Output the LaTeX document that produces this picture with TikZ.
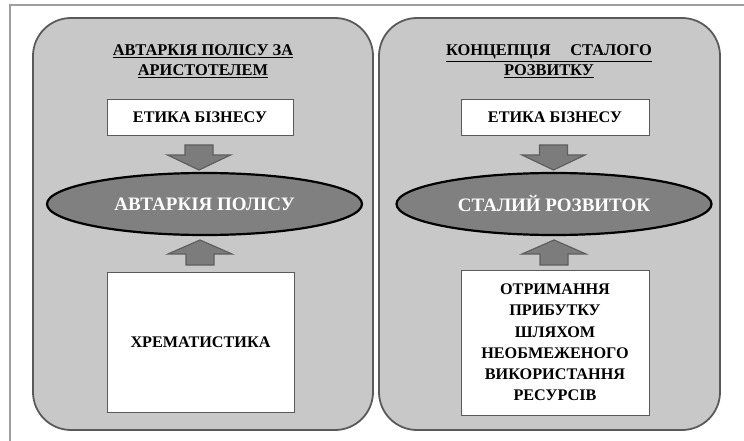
\documentclass[tikz,border=0pt]{standalone}
\usepackage{fontspec}
\setmainfont{Liberation Serif}
\usetikzlibrary{shapes.geometric}
\definecolor{panelfill}{HTML}{C8C8C8}
\definecolor{paneldraw}{HTML}{5A5A5A}
\definecolor{ellfill}{HTML}{808080}
\definecolor{arrfill}{HTML}{7C7C7C}
\definecolor{arrdraw}{HTML}{5E5E5E}
\definecolor{framecol}{HTML}{9E9E9E}
\tikzset{
  panel/.style={draw=paneldraw, line width=1.8pt, fill=panelfill, rounded corners=38pt},
  wbox/.style={draw=paneldraw, line width=0.9pt, fill=white, align=center, font=\bfseries\fontsize{16.2}{21.2}\selectfont, inner sep=0pt},
  ell/.style={ellipse, draw=black, line width=2.2pt, fill=ellfill, text=white, font=\bfseries\fontsize{19}{22}\selectfont, inner sep=0pt, minimum width=315pt, minimum height=62pt},
  ttl/.style={align=center, font=\bfseries\fontsize{16.4}{20}\selectfont, inner sep=0pt},
  blockarrow/.style={draw=arrdraw, line width=1.2pt, fill=arrfill, line join=miter},
  pics/arrdown/.style={code={
    \draw[blockarrow] (-14,0) -- (14,0) -- (14,10) -- (31.5,10) -- (0,25) -- (-31.5,10) -- (-14,10) -- cycle;}},
  pics/arrup/.style={code={
    \draw[blockarrow] (-14,0) -- (14,0) -- (14,-11) -- (32,-11) -- (0,-25) -- (-32,-11) -- (-14,-11) -- cycle;}}
}
\begin{document}
\begin{tikzpicture}[x=1pt,y=-1pt]
\useasboundingbox (0,0) rectangle (744,441);
\fill[white] (0,0) rectangle (744,441);
% outer frame lines
\draw[framecol, line width=2pt] (10,441) -- (10,5) -- (744,5);
% panels
\draw[panel] (33,18) rectangle (373,430);
\draw[panel] (379,18) rectangle (720,430);
% left panel
\node[ttl] (t1) at (203,61.5) {\underline{АВТАРКІЯ ПОЛІСУ ЗА}\\\underline{АРИСТОТЕЛЕМ}};
\node[wbox, minimum width=186pt, minimum height=36pt] (e1) at (200,117) {ЕТИКА БІЗНЕСУ};
\node[ell] (a1) at (204.5,204) {АВТАРКІЯ ПОЛІСУ};
\node[wbox, minimum width=187pt, minimum height=140pt] (x1) at (200.5,342) {ХРЕМАТИСТИКА};
\pic at (199,145) {arrdown};
\pic at (200,265) {arrup};
% right panel
\node[ttl] (t2) at (549,61.5) {\underline{КОНЦЕПЦІЯ\hspace{1.2em}СТАЛОГО}\\\underline{РОЗВИТКУ}};
\node[wbox, minimum width=188pt, minimum height=36pt] (e2) at (555,117) {ЕТИКА БІЗНЕСУ};
\node[ell] (a2) at (554,204) {СТАЛИЙ РОЗВИТОК};
\node[wbox, minimum width=188pt, minimum height=145pt] (x2) at (555,342.5) {ОТРИМАННЯ\\ПРИБУТКУ\\ШЛЯХОМ\\НЕОБМЕЖЕНОГО\\ВИКОРИСТАННЯ\\РЕСУРСІВ};
\pic at (553.5,145) {arrdown};
\pic at (554,265) {arrup};
\end{tikzpicture}
\end{document}
